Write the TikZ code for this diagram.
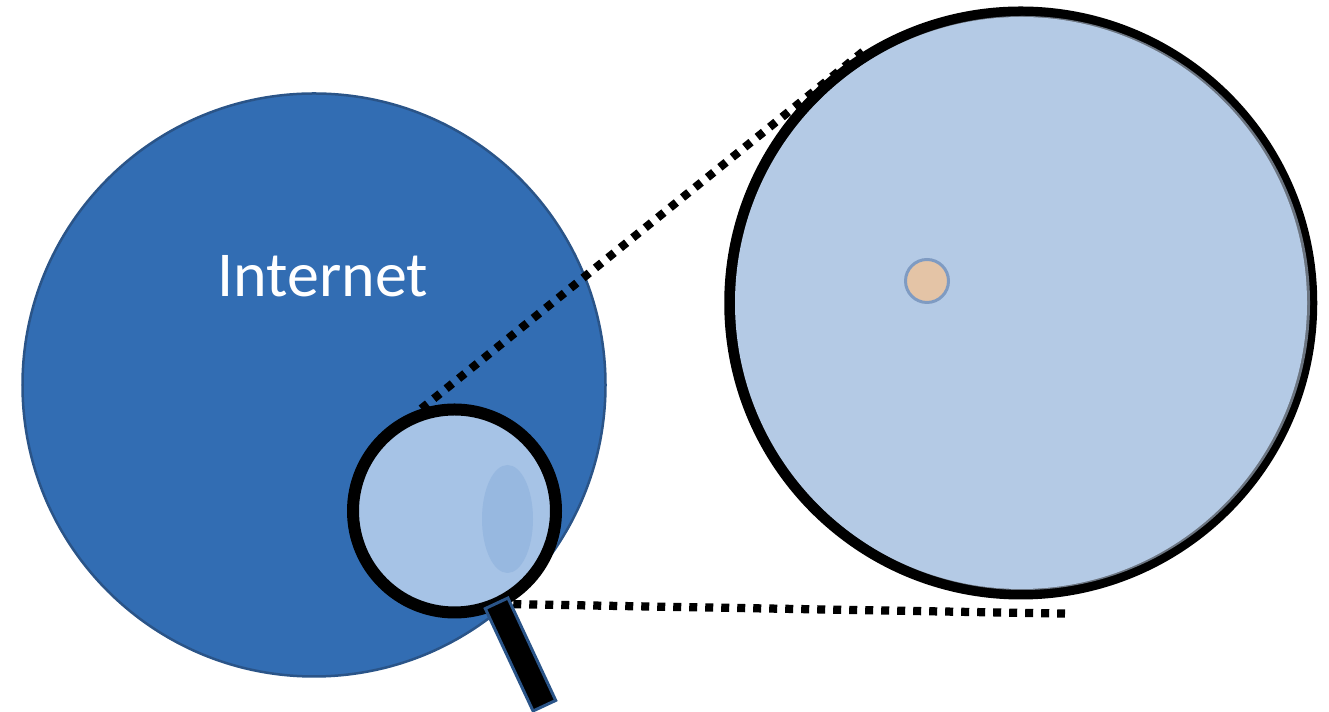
\documentclass[tikz,border=0pt]{standalone}
\usepackage{fontspec}
\setmainfont{Carlito}
\usetikzlibrary{positioning,shapes.geometric}
\definecolor{CNET}{HTML}{326DB3}
\definecolor{CNETBD}{HTML}{2A5488}
\definecolor{CLENS}{HTML}{A6C3E6}
\definecolor{CGLARE}{HTML}{97B8E0}
\definecolor{CZOOM}{HTML}{B4CAE5}
\definecolor{CZOOMBD}{HTML}{6B7480}
\definecolor{CDOT}{HTML}{E4C4A6}
\definecolor{CDOTBD}{HTML}{7F9BC2}
\definecolor{CGRIP}{HTML}{2A5488}

\begin{document}
\begin{tikzpicture}[
  % plain filled circle, size comes from the node
  disc/.style={circle, inner sep=0pt},
  % dotted zoom line
  zoomline/.style={draw=black, line width=0.165cm, dash pattern=on 0.16cm off 0.16cm},
]
\useasboundingbox (0,0) rectangle (26.58,14.24);

% ---------- Internet ----------
\node[disc, draw=CNETBD, line width=0.05cm, fill=CNET, minimum size=11.66cm] (NET) at (6.28,6.54) {};
\node[font=\fontsize{36.4}{40}\selectfont, color=white] (NETL) at (6.46,8.72) {Internet};

% ---------- Zoomed view (black ring is thicker on the left) ----------
\node[disc, fill=black, minimum size=11.86cm] (ZOOM) at (20.415,8.18) {};
\node[disc, fill=CZOOMBD, minimum size=11.48cm] (ZOOMB) at (20.46,8.18) {};
\node[disc, fill=CZOOM, minimum size=11.44cm] (ZOOMF) at (20.42,8.18) {};
\node[disc, draw=CDOTBD, line width=0.06cm, fill=CDOT, minimum size=0.86cm] (HOST) at (18.54,8.62) {};

% ---------- Free end of the lower line ----------
\coordinate (LOWEND) at (21.30,1.968);

% ---------- Magnifier ----------
\node[disc, outer sep=0.12cm, minimum size=4.06cm] (LENS) at (9.09,4.02) {};
\draw[zoomline] (LENS.108) -- (ZOOM.122.5);
\draw[zoomline, dash phase=0.22cm] (LENS.-60) -- (LOWEND);
\node[disc, draw=black, line width=0.24cm, fill=CLENS, minimum size=4.06cm] (GLASS) at (LENS) {};
\node[ellipse, inner sep=0pt, fill=CGLARE, minimum width=1.02cm, minimum height=2.16cm] (GLARE) at (10.15,3.86) {};
\node[rectangle, draw=CGRIP, line width=0.06cm, fill=black, inner sep=0pt,
      minimum width=2.26cm, minimum height=0.5cm, rotate=-65] (GRIP) at (10.41,1.15) {};

\end{tikzpicture}
\end{document}
